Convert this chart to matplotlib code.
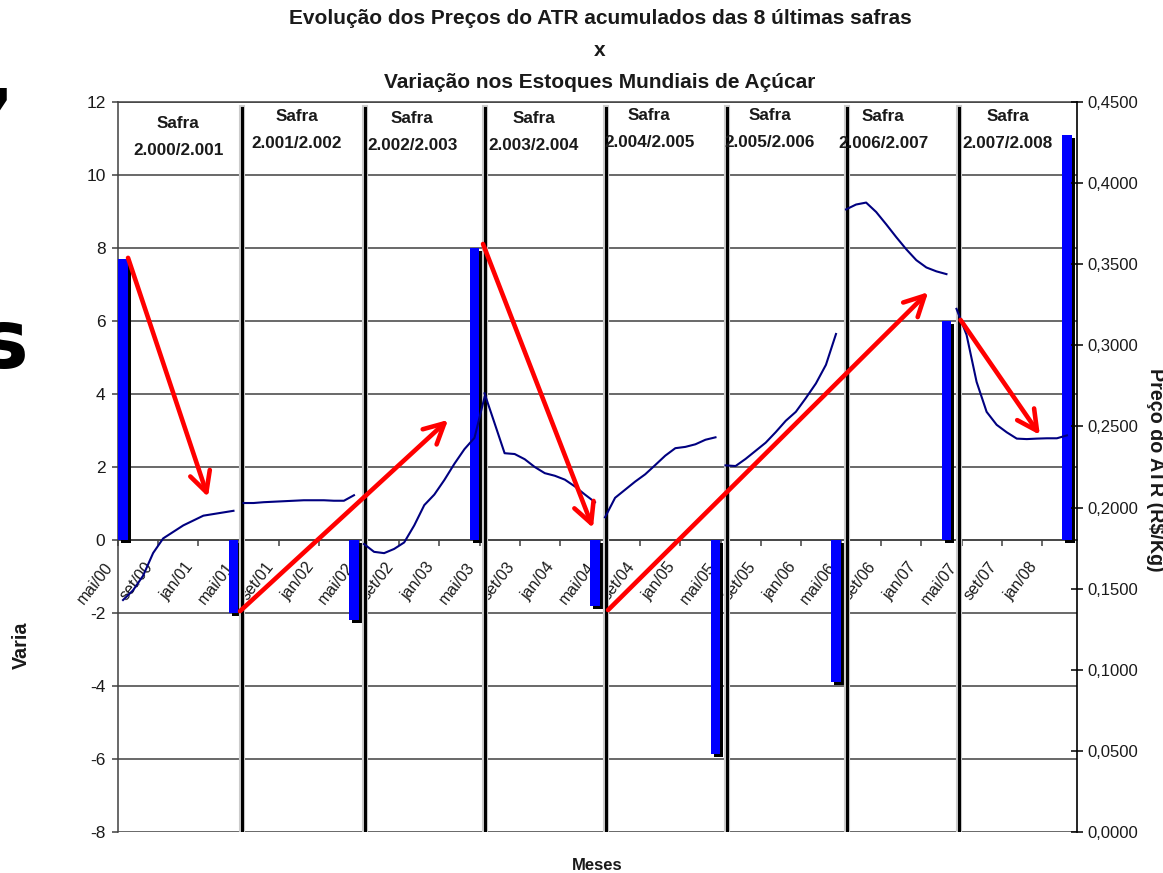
import matplotlib
matplotlib.use("Agg")
import matplotlib.pyplot as plt
import matplotlib.patheffects as pe
import numpy as np

# ---------------- data ----------------
month_labels = ["mai/00", "set/00", "jan/01", "mai/01", "set/01", "jan/02",
                "mai/02", "set/02", "jan/03", "mai/03", "set/03", "jan/04",
                "mai/04", "set/04", "jan/05", "mai/05", "set/05", "jan/06",
                "mai/06", "set/06", "jan/07", "mai/07", "set/07", "jan/08"]

# world sugar stock variation (left axis) and the month index of each bar
stock_months = [0, 11, 23, 35, 47, 59, 71, 82, 94]
stock_variation = [7.7, -2.0, -2.2, 8.0, -1.8, -5.85, -3.9, 6.0, 11.1]

safra_names = ["2.000/2.001", "2.001/2.002", "2.002/2.003", "2.003/2.004",
               "2.004/2.005", "2.005/2.006", "2.006/2.007", "2.007/2.008"]

# accumulated ATR price (R$/Kg), one monthly series per crop year
atr_start = [0, 12, 24, 36, 48, 60, 72, 83]
atr_2000 = [0.143, 0.149, 0.158, 0.172, 0.181, 0.185, 0.189, 0.192, 0.195, 0.196, 0.197, 0.198]
atr_2001 = [0.2028, 0.2028, 0.2033, 0.2036, 0.2039, 0.2042, 0.2045, 0.2045, 0.2045, 0.2042, 0.2042, 0.2076]
atr_2002 = [0.1775, 0.1727, 0.1719, 0.1745, 0.1785, 0.189, 0.2015, 0.208, 0.217, 0.227, 0.236, 0.243, 0.268]
atr_2003 = [0.2704, 0.252, 0.2335, 0.2330, 0.2298, 0.225, 0.2212, 0.2196, 0.2172, 0.213, 0.208, 0.2033]
atr_2004 = [0.194, 0.206, 0.211, 0.216, 0.2205, 0.2262, 0.232, 0.2366, 0.2374, 0.239, 0.2418, 0.2433]
atr_2005 = [0.226, 0.2256, 0.230, 0.235, 0.240, 0.2465, 0.2535, 0.259, 0.2675, 0.2765, 0.288, 0.307]
atr_2006 = [0.3838, 0.3868, 0.388, 0.3822, 0.3746, 0.3667, 0.3592, 0.3525, 0.348, 0.3456, 0.3439]
atr_2007 = [0.3225, 0.3065, 0.2775, 0.259, 0.251, 0.2464, 0.2425, 0.2422, 0.2425, 0.2427, 0.2427, 0.2445]
atr_series = [atr_2000, atr_2001, atr_2002, atr_2003, atr_2004, atr_2005, atr_2006, atr_2007]

left_ticks = [-8, -6, -4, -2, 0, 2, 4, 6, 8, 10, 12]
right_ticks = [0.0, 0.05, 0.10, 0.15, 0.20, 0.25, 0.30, 0.35, 0.40, 0.45]

# ---------------- annotations (data units) ----------------
safra_bounds = [11.85, 24.1, 36.05, 48.1, 60.1, 72.1, 83.2]
safra_label_pos = [(5.5, 11.42), (17.3, 11.59), (28.8, 11.56), (40.9, 11.56),
                   (52.4, 11.64), (64.4, 11.64), (75.7, 11.59), (88.1, 11.59)]
trend_arrows = [(0.5, 7.73, 8.46, 1.18),
                (11.65, -1.95, 32.37, 3.29),
                (35.85, 8.11, 46.8, 0.33),
                (48.3, -1.92, 80.18, 6.79),
                (83.4, 6.03, 91.3, 2.88)]

FONT = "Liberation Sans"
TXT = "#1a1a1a"
GRID = "#404040"

W, H = 1163, 873
fig = plt.figure(figsize=(W / 100, H / 100), dpi=100)
ax = fig.add_axes([118 / W, 41 / H, 959 / W, 730 / H])

# horizontal grid
ax.set_yticks(left_ticks)
ax.set_yticklabels([str(v) for v in left_ticks], fontfamily=FONT, fontsize=12.5, color=TXT)
ax.yaxis.grid(True, color=GRID, lw=1.1, zorder=1)
ax.tick_params(axis="y", direction="out", length=4, width=1.1, color=GRID, pad=5)

# category axis through zero: tick marks between categories, one label every 4 months
ax.spines["bottom"].set_position(("data", 0))
for s in ("bottom", "left", "top"):
    ax.spines[s].set_color(GRID)
    ax.spines[s].set_linewidth(1.1)
ax.spines["right"].set_visible(False)
tick_pos = [4 * k - 0.5 for k in range(24)]
ax.set_xticks(tick_pos)
ax.set_xticklabels([])
ax.tick_params(axis="x", which="major", direction="out", length=4.5, width=1.1, color=GRID)
ax.set_xlim(-0.5, 95.0)
ax.set_ylim(-8, 12)
for xp, lab in zip(tick_pos, month_labels):
    ax.annotate(lab, xy=(xp, 0), xycoords="data", xytext=(-10, -14),
                textcoords="offset points", rotation=52, ha="right", va="top",
                rotation_mode="anchor", fontfamily=FONT, fontsize=11.5, color=TXT,
                annotation_clip=False)

# stock variation bars with drop shadow
bars = ax.bar(stock_months, stock_variation, width=0.98, color="#0000FF", zorder=3)
for b in bars:
    b.set_path_effects([pe.SimplePatchShadow(offset=(2.2, -2.2), shadow_rgbFace="black", alpha=1.0),
                        pe.Normal()])

# crop-year separators
for xb in safra_bounds:
    ax.axvline(xb, ymin=0.0, ymax=0.992, color="black", lw=2.2, zorder=4,
               path_effects=[pe.withStroke(linewidth=4.4, foreground="#cccccc")])

# crop-year labels
for (xs, ys), name in zip(safra_label_pos, safra_names):
    ax.text(xs, ys, "Safra", ha="center", va="center", fontfamily=FONT,
            fontweight="bold", fontsize=12.3, color=TXT, zorder=5)
    ax.text(xs, ys - 0.74, name, ha="center", va="center", fontfamily=FONT,
            fontweight="bold", fontsize=12.3, color=TXT, zorder=5)

# ATR price line on the secondary axis
ax2 = ax.twinx()
ax2.set_ylim(0, 0.45)
ax2.set_xlim(ax.get_xlim())
for start, vals in zip(atr_start, atr_series):
    ax2.plot(np.arange(start, start + len(vals)), vals, color="#000080", lw=1.5,
             solid_joinstyle="round", zorder=3)
ax2.set_yticks(right_ticks)
ax2.set_yticklabels([f"{v:.4f}".replace(".", ",") for v in right_ticks],
                    fontfamily=FONT, fontsize=12, color=TXT)
ax2.tick_params(axis="y", direction="inout", length=9, width=1.1, color="black", pad=3)
ax2.set_ylim(0, 0.45)
for s in ("left", "top", "bottom"):
    ax2.spines[s].set_visible(False)
ax2.spines["right"].set_color("black")
ax2.spines["right"].set_linewidth(1.2)

# trend arrows
for x0, y0, x1, y1 in trend_arrows:
    ax2.annotate("", xy=(x1, y1), xytext=(x0, y0), xycoords=ax.transData,
                 textcoords=ax.transData,
                 arrowprops=dict(arrowstyle="->,head_length=0.72,head_width=0.37",
                                 mutation_scale=20, color="#FF0000", lw=3.3,
                                 shrinkA=0, shrinkB=0),
                 zorder=6)

# titles and axis captions
title_kw = dict(ha="center", va="center", fontfamily=FONT, fontweight="bold",
                fontsize=15, color=TXT)
fig.text(600 / W, 1 - 19 / H, "Evolução dos Preços do ATR acumulados das 8 últimas safras", **title_kw)
fig.text(600 / W, 1 - 51 / H, "x", **title_kw)
fig.text(600 / W, 1 - 82 / H, "Variação nos Estoques Mundiais de Açúcar", **title_kw)

fig.text(1155 / W, 1 - 470 / H, "Preço do ATR (R$/Kg)", rotation=-90, ha="center", va="center",
         fontfamily=FONT, fontweight="bold", fontsize=14.2, color=TXT)
fig.text(597 / W, 1 - 866 / H, "Meses", ha="center", va="center",
         fontfamily=FONT, fontweight="bold", fontsize=12, color=TXT)
fig.text(21 / W, 1 - 645 / H, "Varia", rotation=90, ha="center", va="center",
         fontfamily=FONT, fontweight="bold", fontsize=14.2, color=TXT)

# large slide text cut by the left edge
fig.text(29 / W, 1 - 368 / H, "s", ha="right", va="baseline", fontfamily="DejaVu Sans",
         fontweight="bold", fontsize=59, color="black")
fig.text(15 / W, 1 - 103 / H, ",", ha="right", va="baseline", fontfamily="DejaVu Sans",
         fontweight="bold", fontsize=59, color="black")

fig.savefig("out.png", dpi=100)
